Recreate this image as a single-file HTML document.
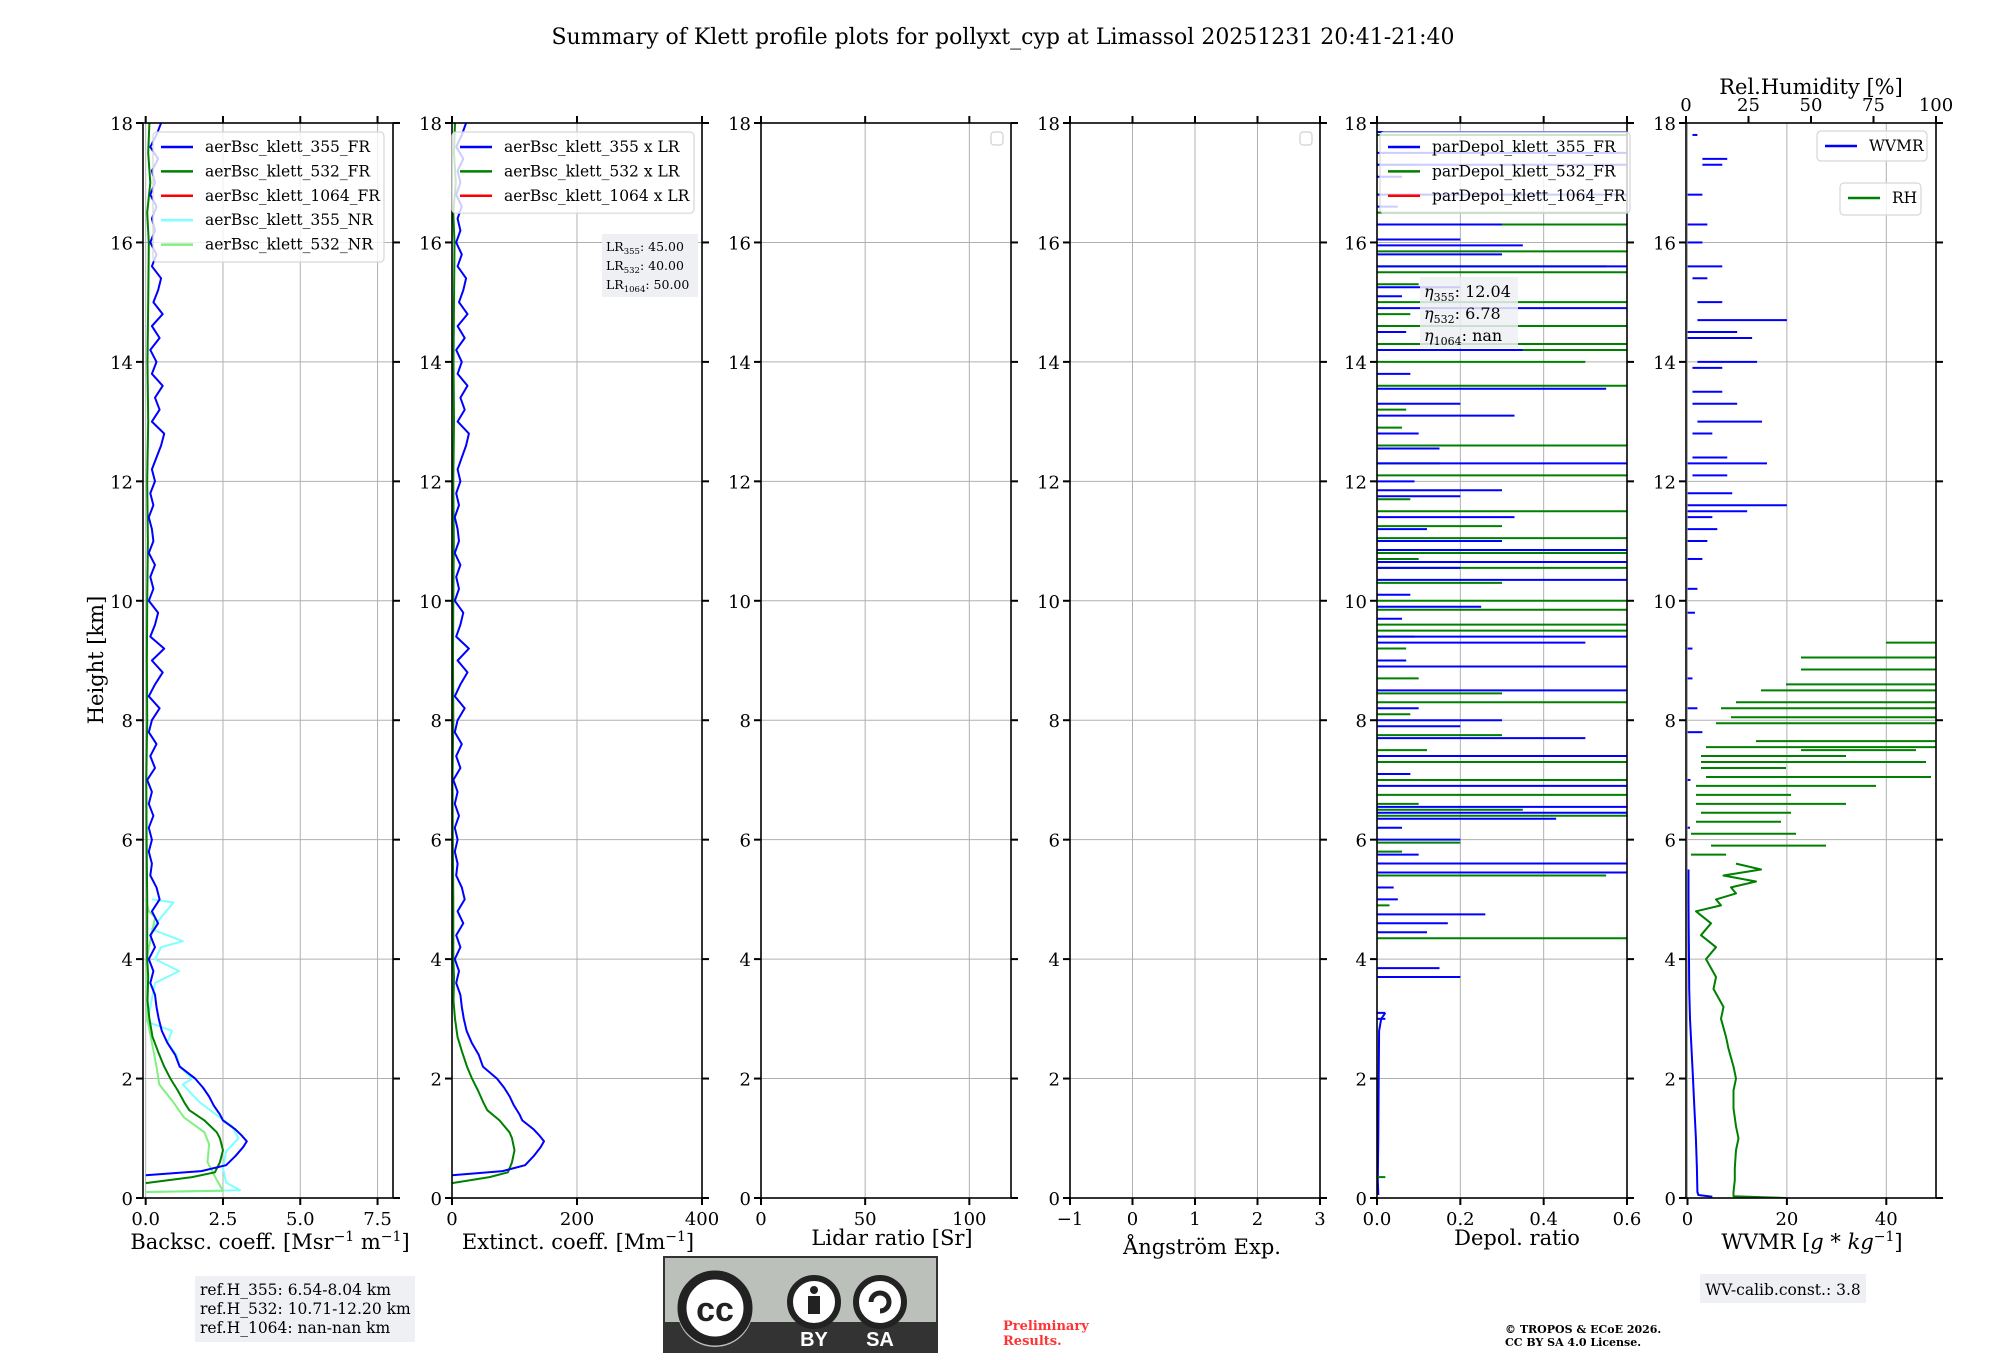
<!DOCTYPE html>
<html><head><meta charset="utf-8"><style>
html,body{margin:0;padding:0;background:#fff;}
svg{display:block;font-family:"DejaVu Serif","Liberation Serif",serif;}
</style></head><body>
<svg id="fig" xmlns="http://www.w3.org/2000/svg" width="2000" height="1360" viewBox="0 0 2000 1360">
<rect width="2000" height="1360" fill="#fff"/>
<text x="1003" y="44" font-size="22" text-anchor="middle">Summary of Klett profile plots for pollyxt_cyp at Limassol 20251231 20:41-21:40</text>
<text transform="translate(103,660) rotate(-90)" font-size="21" text-anchor="middle">Height [km]</text>
<g id="plots"></g>
<g>
<rect x="195" y="1276" width="220" height="66" fill="#eef0f4"/>
<text x="200" y="1295" font-size="15.5">ref.H_355: 6.54-8.04 km</text>
<text x="200" y="1314" font-size="15.5">ref.H_532: 10.71-12.20 km</text>
<text x="200" y="1333" font-size="15.5">ref.H_1064: nan-nan km</text>
</g>
<g>
<rect x="664" y="1257" width="273" height="95" fill="#bbc0ba" stroke="#333" stroke-width="2"/>
<rect x="664" y="1322" width="273" height="30" fill="#333"/>
<circle cx="715" cy="1309" r="38" fill="#bbc0ba"/>
<circle cx="715" cy="1308" r="33" fill="#fff" stroke="#222" stroke-width="9"/>
<text x="715" y="1321" font-family="Liberation Sans,sans-serif" font-weight="bold" font-size="34" text-anchor="middle" fill="#222">cc</text>
<circle cx="814" cy="1302" r="24" fill="#fff" stroke="#222" stroke-width="6"/>
<circle cx="814" cy="1290" r="4" fill="#222"/>
<rect x="808" y="1296" width="12" height="18" fill="#222"/>
<circle cx="880" cy="1302" r="24" fill="#fff" stroke="#222" stroke-width="6"/>
<path d="M871 1302 a9 9 0 1 1 9 9" fill="none" stroke="#222" stroke-width="5"/>
<text x="814" y="1346" font-family="Liberation Sans,sans-serif" font-weight="bold" font-size="20" text-anchor="middle" fill="#fff">BY</text>
<text x="880" y="1346" font-family="Liberation Sans,sans-serif" font-weight="bold" font-size="20" text-anchor="middle" fill="#fff">SA</text>
</g>
<g fill="#ff3333" font-size="13" font-weight="bold">
<text x="1003" y="1330">Preliminary</text><text x="1003" y="1345">Results.</text>
</g>
<g font-size="11" font-weight="bold">
<text x="1505" y="1333">© TROPOS &amp; ECoE 2026.</text><text x="1505" y="1346">CC BY SA 4.0 License.</text>
</g>
<g>
<rect x="1700" y="1274" width="166" height="29" fill="#eef0f4"/>
<text x="1783" y="1295" font-size="15.5" text-anchor="middle">WV-calib.const.: 3.8</text>
</g>
</svg>
<script>
const bscHeights355 = [0.38,0.45,0.55,0.7,0.85,0.95,1.05,1.15,1.3,1.4,1.55,1.7,1.85,2.0,2.2,2.4,2.6,2.8,3.0,3.2,3.4,3.6,3.8,4.0,4.2,4.4,4.6,4.8,5.0,5.2,5.4,5.6,5.8,6.0,6.2,6.4,6.6,6.8,7.0,7.2,7.4,7.6,7.8,8.0,8.2,8.4,8.6,8.8,9.0,9.2,9.4,9.6,9.8,10.0,10.2,10.4,10.6,10.8,11.0,11.2,11.4,11.6,11.8,12.0,12.2,12.4,12.6,12.8,13.0,13.2,13.4,13.6,13.8,14.0,14.2,14.4,14.6,14.8,15.0,15.2,15.4,15.6,15.8,16.0,16.2,16.4,16.6,16.8,17.0,17.2,17.4,17.6,17.8,18.0];
const bscValues355 = [0,1.8,2.6,2.9,3.15,3.27,3.1,2.9,2.5,2.4,2.2,2.05,1.85,1.6,1.1,0.95,0.7,0.52,0.42,0.35,0.3,0.15,0.25,0.1,0.3,0.15,0.4,0.2,0.45,0.35,0.15,0.2,0.1,0.2,0.1,0.25,0.1,0.2,0.05,0.3,0.15,0.35,0.1,0.2,0.45,0.1,0.3,0.55,0.2,0.6,0.15,0.3,0.4,0.1,0.25,0.15,0.3,0.1,0.25,0.2,0.1,0.25,0.15,0.3,0.2,0.35,0.5,0.6,0.2,0.45,0.3,0.55,0.2,0.35,0.15,0.45,0.2,0.55,0.25,0.4,0.5,0.2,0.35,0.15,0.3,0.2,0.35,0.15,0.3,0.2,0.4,0.15,0.35,0.5];
const bscHeights532 = [0.25,0.35,0.43,0.6,0.8,1.0,1.1,1.3,1.47,1.6,1.8,2.0,2.2,2.45,2.7,3.0,3.3,3.7,4.0,5.0,6.0,7.0,8.0,9.0,10.0,11.0,12.0,13.0,14.0,15.0,16.0,16.5,17.0,17.5,18.0];
const bscValues532 = [0,1.5,2.24,2.4,2.5,2.4,2.3,1.9,1.41,1.25,1.04,0.8,0.6,0.4,0.22,0.12,0.06,0.08,0.05,0.05,0.03,0.02,0.05,0.04,0.05,0.07,0.05,0.08,0.06,0.08,0.1,0.05,0.15,0.08,0.12];
const nrHeights355 = [0.1,0.13,0.26,0.5,0.78,1.0,1.2,1.35,1.6,1.9,2.0,2.2,2.4,2.6,2.8,2.95,3.2,3.6,3.8,4.0,4.2,4.3,4.5,4.7,4.95,5.0];
const nrValues355 = [0,3.05,2.6,2.5,2.6,3.0,2.8,2.4,1.75,1.2,1.5,1.1,1.0,0.7,0.85,0.05,0.15,0.3,1.08,0.3,0.5,1.2,0.2,0.5,0.9,0.2];
const nrHeights532 = [0.1,0.12,0.3,0.6,0.9,1.1,1.35,1.6,1.9,2.2,2.6,3.0,4.0,4.7,4.8,5.0];
const nrValues532 = [0,2.5,2.3,2.0,2.05,1.9,1.24,0.9,0.44,0.35,0.2,0.05,0.03,0.3,0.1,0];
const lidarRatios = [45, 40, 50];
const depolSpikeH355 = [3.7,3.85,4.45,4.6,4.75,5.45,5.6,5.75,6.0,6.35,6.45,6.55,6.9,7.4,7.7,7.9,8.0,8.5,8.9,9.3,9.4,9.9,10.35,10.55,10.65,10.85,11.0,11.4,11.75,11.85,12.3,12.55,13.1,13.3,13.55,14.2,14.9,15.25,15.6,15.8,15.95,16.05,16.3,16.8,17.3,17.5,17.85,3.0,3.1,5.0,5.2,6.2,7.1,8.2,9.0,9.7,10.1,11.2,12.0,12.8,13.8,14.5,15.1,16.6,17.1];
const depolSpikeV355 = [0.2,0.15,0.12,0.17,0.26,0.6,0.6,0.1,0.2,0.43,0.6,0.6,0.6,0.6,0.5,0.2,0.3,0.6,0.6,0.5,0.6,0.25,0.6,0.2,0.6,0.6,0.3,0.33,0.2,0.3,0.6,0.15,0.33,0.2,0.55,0.35,0.6,0.2,0.6,0.3,0.35,0.2,0.3,0.6,0.6,0.6,0.6,0.02,0.02,0.05,0.04,0.06,0.08,0.1,0.07,0.06,0.08,0.12,0.09,0.1,0.08,0.07,0.06,0.05,0.06];
const depolSpikeH532 = [0.35,4.35,5.4,5.95,6.4,6.5,6.75,7.0,7.3,7.75,8.3,8.45,8.9,9.5,9.6,9.85,10.0,10.3,10.55,10.8,11.05,11.25,11.5,12.1,12.3,12.6,13.6,14.0,14.2,14.3,14.6,15.0,15.5,15.6,15.85,16.3,16.5,17.8,4.9,5.8,6.6,7.5,8.1,8.7,9.2,9.4,10.7,11.7,12.9,13.2,14.8,15.3,16.8,17.3];
const depolSpikeV532 = [0.02,0.6,0.55,0.2,0.6,0.35,0.6,0.6,0.6,0.3,0.6,0.3,0.1,0.6,0.6,0.6,0.6,0.3,0.6,0.6,0.6,0.3,0.6,0.6,0.15,0.6,0.6,0.5,0.6,0.6,0.6,0.6,0.6,0.55,0.6,0.6,0.6,0.6,0.03,0.06,0.1,0.12,0.08,0.1,0.07,0.09,0.1,0.08,0.06,0.07,0.08,0.1,0.12,0.1];
const wvHeights = [0.02,0.05,0.1,0.5,1.0,1.5,2.0,2.5,3.0,3.5,4.0,4.5,5.0,5.5];
const wvValues = [5,2.2,2.0,1.9,1.7,1.4,1.1,0.8,0.5,0.35,0.3,0.25,0.2,0.2];
const wvSegH = [6.2,7.0,7.8,8.2,8.7,9.2,9.8,10.2,10.7,11.0,11.2,11.4,11.5,11.6,11.8,12.1,12.3,12.4,12.8,13.0,13.3,13.5,13.9,14.0,14.4,14.5,14.7,15.0,15.4,15.6,16.0,16.3,16.8,17.3,17.4,17.8];
const wvSegStart = [0,0,0,0,0,0,0,0,0,0,0,0,0,0,0,1,0,1,1,2,1,1,1,2,0,0,2,2,1,0,0,0,0,3,3,1];
const wvSegEnd = [0.5,0.6,3,2,1,1,1.5,2,3,4,6,5,12,20,9,8,16,8,5,15,10,7,7,14,13,10,20,7,4,7,3,4,3,7,8,2];
const rhHeights = [0.0,0.03,0.1,0.3,0.5,0.8,1.0,1.2,1.5,1.8,2.0,2.2,2.5,2.7,3.0,3.2,3.5,3.7,4.0,4.2,4.4,4.6,4.8,4.9,5.0,5.1,5.2,5.3,5.4,5.5,5.6];
const rhValues = [40,19,19,19.5,19.5,20,21,20,19,19,20,19,17,16,14,15,11,12,8,12,6,10,4,14,12,20,18,28,15,30,20];
const rhSegH = [5.75,5.9,6.1,6.3,6.45,6.6,6.75,6.9,7.05,7.2,7.3,7.4,7.5,7.55,7.65,7.95,8.05,8.2,8.3,8.5,8.6,8.85,9.05,9.3];
const rhSegStart = [2,10,2,4,6,4,4,4,8,6,6,6,46,8,28,12,18,14,20,30,40,46,46,80];
const rhSegEnd = [16,56,44,38,42,64,42,76,98,40,96,64,92,100,100,100,100,100,100,100,100,100,100,100];
const yTicks = [0,2,4,6,8,10,12,14,16,18];

const NS = "http://www.w3.org/2000/svg";
const TOP = 123, BOT = 1198, W = 250;
const lefts = [143, 452, 761, 1070, 1377, 1686];
const yScale = h => BOT - h / 18 * (BOT - TOP);
const root = document.getElementById('plots');
function el(tag, attrs, parent) {
  const e = document.createElementNS(NS, tag);
  for (const k in attrs) e.setAttribute(k, attrs[k]);
  (parent || root).appendChild(e);
  return e;
}
function txt(s, attrs, parent) { const t = el('text', attrs, parent); t.textContent = s; return t; }

const axesSpec = [
  {name:'backscatter', xmin:-0.087, xmax:8.0, ticks:[0,2.5,5,7.5], labels:['0.0','2.5','5.0','7.5']},
  {name:'extinction', xmin:0, xmax:400, ticks:[0,200,400], labels:['0','200','400']},
  {name:'lidar-ratio', xmin:0, xmax:120, ticks:[0,50,100], labels:['0','50','100']},
  {name:'angstrom', xmin:-1, xmax:3, ticks:[-1,0,1,2,3], labels:['\u22121','0','1','2','3']},
  {name:'depol', xmin:0, xmax:0.6, ticks:[0,0.2,0.4,0.6], labels:['0.0','0.2','0.4','0.6']},
  {name:'wvmr', xmin:-0.3, xmax:50, ticks:[0,20,40], labels:['0','20','40']}
];
const xs = axesSpec.map((a,i) => v => lefts[i] + (v - a.xmin) / (a.xmax - a.xmin) * W);
const rhX = v => lefts[5] + v / 100 * W;

axesSpec.forEach((a, i) => {
  const L = lefts[i], R = L + W, g = el('g', {});
  
  
  yTicks.forEach(t => el('line', {x1:L, x2:R, y1:yScale(t), y2:yScale(t), stroke:'#b0b0b0', 'stroke-width':1}, g));
  a.ticks.forEach(t => el('line', {x1:xs[i](t), x2:xs[i](t), y1:TOP, y2:BOT, stroke:'#b0b0b0', 'stroke-width':1}, g));
});

function poly(xf, H, V, color, w, name, extraScale) {
  const pts = H.map((h, k) => xf(V[k] * (extraScale || 1)).toFixed(1) + ',' + yScale(h).toFixed(1)).join(' ');
  const p = el('polyline', {points:pts, fill:'none', stroke:color, 'stroke-width':w, 'stroke-linejoin':'round'});
  
  
  return p;
}
function spikes(xf, H, V, color, name, parent) {
  const g = el('g', {stroke:color, 'stroke-width':2}, parent);
  
  
  H.forEach((h, k) => el('line', {x1:xf(0), x2:xf(V[k]), y1:yScale(h), y2:yScale(h)}, g));
}
function segs(xf, H, S, E, color, name, parent) {
  const g = el('g', {stroke:color, 'stroke-width':2}, parent);
  
  
  H.forEach((h, k) => el('line', {x1:xf(S[k]), x2:xf(E[k]), y1:yScale(h), y2:yScale(h)}, g));
}
lefts.forEach((L, i) => {
  const cp = el('clipPath', {id:'clip' + i});
  el('rect', {x:L, y:TOP, width:W, height:BOT - TOP}, cp);
});
const c = i => el('g', {'clip-path':'url(#clip' + i + ')'});
let g;
g = c(0);
g.appendChild(poly(xs[0], nrHeights355, nrValues355, '#7fffff', 2, 'bsc-nr355-line'));
g.appendChild(poly(xs[0], nrHeights532, nrValues532, '#80f080', 2, 'bsc-nr532-line'));
g.appendChild(poly(xs[0], bscHeights532, bscValues532, '#008000', 2, 'bsc-532-fr-line'));
g.appendChild(poly(xs[0], bscHeights355, bscValues355, '#0000ff', 2, 'bsc-355-fr-line'));
g = c(1);
g.appendChild(poly(xs[1], bscHeights532, bscValues532, '#008000', 2, 'ext-532-line', lidarRatios[1]));
g.appendChild(poly(xs[1], bscHeights355, bscValues355, '#0000ff', 2, 'ext-355-line', lidarRatios[0]));
g = c(4);
const depolLowH = [0.05,0.3,1.0,2.0,2.8,3.0,3.1];
const depolLowV = [0.003,0.002,0.003,0.004,0.005,0.01,0.02];
g.appendChild(poly(xs[4], depolLowH, depolLowV, '#0000ff', 2, 'depol-355-low-line'));
spikes(xs[4], depolSpikeH532, depolSpikeV532, '#008000', 'depol-532-spikes', g);
spikes(xs[4], depolSpikeH355, depolSpikeV355, '#0000ff', 'depol-355-spikes', g);
g = c(5);
g.appendChild(poly(xs[5], wvHeights, wvValues, '#0000ff', 2, 'wvmr-line'));
segs(xs[5], wvSegH, wvSegStart, wvSegEnd, '#0000ff', 'wvmr-segments', g);
g.appendChild(poly(rhX, rhHeights, rhValues, '#008000', 2, 'rh-line'));
segs(rhX, rhSegH, rhSegStart, rhSegEnd, '#008000', 'rh-segments', g);

axesSpec.forEach((a, i) => {
  const L = lefts[i], R = L + W;
  const g = el('g', {});
  
  
  el('rect', {x:L, y:TOP, width:W, height:BOT - TOP, fill:'none', stroke:'#000', 'stroke-width':1.6}, g);
  yTicks.forEach(t => {
    const y = yScale(t);
    el('line', {x1:L - 7, x2:L, y1:y, y2:y, stroke:'#000', 'stroke-width':2}, g);
    el('line', {x1:R, x2:R + 7, y1:y, y2:y, stroke:'#000', 'stroke-width':2}, g);
    txt(String(t), {x:L - 10, y:y + 7, 'font-size':18, 'text-anchor':'end'}, g);
  });
  a.ticks.forEach((t, k) => {
    const x = xs[i](t);
    el('line', {x1:x, x2:x, y1:BOT, y2:BOT + 7, stroke:'#000', 'stroke-width':2}, g);
    if (i !== 5) el('line', {x1:x, x2:x, y1:TOP - 7, y2:TOP, stroke:'#000', 'stroke-width':2}, g);
    txt(a.labels[k], {x:x, y:BOT + 27, 'font-size':18, 'text-anchor':'middle'}, g);
  });
});
[0,25,50,75,100].forEach(t => {
  el('line', {x1:rhX(t), x2:rhX(t), y1:TOP - 7, y2:TOP, stroke:'#000', 'stroke-width':2});
  txt(String(t), {x:rhX(t), y:111, 'font-size':18, 'text-anchor':'middle'});
});
const rt = txt('Rel.Humidity [%]', {x:rhX(50), y:94, 'font-size':21, 'text-anchor':'middle'});


const xl = (s, x, y, name) => { const t = el('text', {x:x, y:y, 'font-size':21, 'text-anchor':'middle'}); t.innerHTML = s;   };
xl('Backsc. coeff. [Msr<tspan dy="-8" font-size="14">\u22121</tspan><tspan dy="8"> m</tspan><tspan dy="-8" font-size="14">\u22121</tspan><tspan dy="8">]</tspan>', 270, 1249, 'backscatter-x-title');
xl('Extinct. coeff. [Mm<tspan dy="-8" font-size="14">\u22121</tspan><tspan dy="8">]</tspan>', 578, 1249, 'extinction-x-title');
xl('Lidar ratio [Sr]', 892, 1245, 'lidar-ratio-x-title');
xl('Ångström Exp.', 1202, 1254, 'angstrom-x-title');
xl('Depol. ratio', 1517, 1245, 'depol-x-title');
xl('WVMR [<tspan font-style="italic">g</tspan> * <tspan font-style="italic">kg</tspan><tspan dy="-8" font-size="14">\u22121</tspan><tspan dy="8">]</tspan>', 1812, 1249, 'wvmr-x-title');

function legend(x, y, w, entries, name, rowH) {
  const g = el('g', {});
  
  
  const h = entries.length * rowH + 8;
  el('rect', {x:x, y:y, width:w, height:h, rx:4, fill:'rgba(255,255,255,0.8)', stroke:'#d6d6d6', 'stroke-width':1.2}, g);
  entries.forEach((e, k) => {
    const cy = y + 15 + k * rowH;
    el('line', {x1:x + 8, x2:x + 40, y1:cy, y2:cy, stroke:e[1], 'stroke-width':2.5}, g);
    txt(e[0], {x:x + 52, y:cy + 5, 'font-size':15.5}, g);
  });
}
legend(153, 132, 231, [['aerBsc_klett_355_FR','#0000ff'],['aerBsc_klett_532_FR','#008000'],['aerBsc_klett_1064_FR','#ff0000'],['aerBsc_klett_355_NR','#7fffff'],['aerBsc_klett_532_NR','#80f080']], 'backscatter-legend', 24.4);
legend(452, 132, 242, [['aerBsc_klett_355 x LR','#0000ff'],['aerBsc_klett_532 x LR','#008000'],['aerBsc_klett_1064 x LR','#ff0000']], 'extinction-legend', 24.4);
legend(1380, 132, 250, [['parDepol_klett_355_FR','#0000ff'],['parDepol_klett_532_FR','#008000'],['parDepol_klett_1064_FR','#ff0000']], 'depol-legend', 24.4);
legend(1817, 131, 110, [['WVMR','#0000ff']], 'wvmr-legend', 22);
legend(1840, 183, 81, [['RH','#008000']], 'rh-legend', 24);
[[991,132],[1300,132]].forEach((p, k) => {
  const r = el('rect', {x:p[0], y:p[1], width:12, height:13, rx:3, fill:'#fff', stroke:'#d0d0d0', 'stroke-width':1.2});
  
  
});
const lr = el('g', {});


el('rect', {x:602, y:234, width:96, height:63, fill:'#eef0f4'}, lr);
['355','532','1064'].forEach((w, k) => {
  const t = el('text', {x:606, y:251 + k * 19, 'font-size':12.5}, lr);
  t.innerHTML = 'LR<tspan dy="3" font-size="8.5">' + w + '</tspan><tspan dy="-3">: ' + lidarRatios[k].toFixed(2) + '</tspan>';
});
const eb = el('g', {});


el('rect', {x:1420, y:277, width:98, height:71, fill:'rgba(238,240,244,0.85)'}, eb);
[['355','12.04'],['532','6.78'],['1064','nan']].forEach((e, k) => {
  const t = el('text', {x:1424, y:297 + k * 22, 'font-size':16}, eb);
  t.innerHTML = '<tspan font-style="italic">η</tspan><tspan dy="4" font-size="11">' + e[0] + '</tspan><tspan dy="-4">: ' + e[1] + '</tspan>';
});
</script>
</body></html>
